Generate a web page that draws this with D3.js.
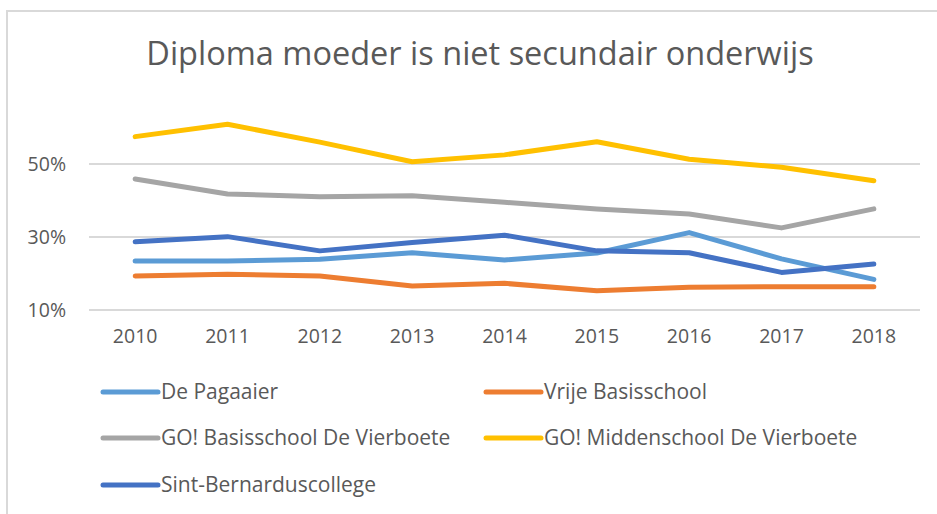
<!DOCTYPE html>
<html>
<head>
<meta charset="utf-8">
<script src="https://cdn.jsdelivr.net/npm/d3@7"></script>
<style>
  body { margin: 0; background: #fff; }
  text { font-family: "Open Sans", sans-serif; fill: #595959; }
</style>
</head>
<body>
<div id="chart"></div>
<script>
// the data
var years = ["2010", "2011", "2012", "2013", "2014", "2015", "2016", "2017", "2018"];
var seriesNames = ["De Pagaaier", "Vrije Basisschool", "GO! Basisschool De Vierboete",
                   "GO! Middenschool De Vierboete", "Sint-Bernarduscollege"];
var pagaaier   = [23.4, 23.4, 23.9, 25.7, 23.7, 25.6, 31.2, 24.0, 18.4];
var vrije      = [19.3, 19.8, 19.3, 16.6, 17.3, 15.3, 16.2, 16.4, 16.4];
var goBasis    = [45.9, 41.8, 41.0, 41.3, 39.5, 37.7, 36.3, 32.5, 37.7];
var goMidden   = [57.5, 60.9, 56.0, 50.6, 52.5, 56.1, 51.3, 49.1, 45.4];
var bernardus  = [28.7, 30.1, 26.2, 28.5, 30.5, 26.2, 25.7, 20.3, 22.6];
var yTicks = [10, 30, 50];
var colors = ["#5B9BD5", "#ED7D31", "#A5A5A5", "#FFC000", "#4472C4"];

var allSeries = [pagaaier, vrije, goBasis, goMidden, bernardus];

var width = 937, height = 514;

var svg = d3.select("#chart")
  .append("svg")
    .attr("width", width)
    .attr("height", height);

// chart border
svg.append("rect")
    .attr("x", 7).attr("y", 11)
    .attr("width", 960).attr("height", 540)
    .attr("fill", "none")
    .attr("stroke", "#d9d9d9")
    .attr("stroke-width", 2);

// title
svg.append("text")
    .attr("x", 480).attr("y", 65)
    .attr("text-anchor", "middle")
    .style("font-size", "32.5px")
    .text("Diploma moeder is niet secundair onderwijs");

// scales
var x = d3.scaleBand()
    .domain(years)
    .range([89, 920]);

var y = d3.scaleLinear()
    .domain([10, 70])
    .range([310, 91]);

// gridlines
svg.append("g")
  .selectAll("line")
  .data(yTicks)
  .enter()
  .append("line")
    .attr("x1", 89).attr("x2", 920)
    .attr("y1", d => y(d)).attr("y2", d => y(d))
    .attr("stroke", "#d9d9d9")
    .attr("stroke-width", 2);

// y axis labels
var yAxis = svg.append("g")
    .attr("transform", "translate(89,0)")
    .call(d3.axisLeft(y).tickValues(yTicks).tickSize(0).tickPadding(23).tickFormat(d => d + "%"));
yAxis.select(".domain").remove();
yAxis.selectAll("text")
    .style("font-size", "19.5px")
    .style("font-family", "'Open Sans', sans-serif")
    .attr("fill", "#595959");

// x axis labels
var xAxis = svg.append("g")
    .attr("transform", "translate(0,310)")
    .call(d3.axisBottom(x).tickSize(0).tickPadding(19));
xAxis.select(".domain").remove();
xAxis.selectAll("text")
    .style("font-size", "19.5px")
    .style("font-family", "'Open Sans', sans-serif")
    .attr("fill", "#595959");

// lines
var line = d3.line()
    .x((d, i) => x(years[i]) + x.bandwidth() / 2)
    .y(d => y(d));

svg.append("g")
  .selectAll("path")
  .data(allSeries)
  .enter()
  .append("path")
    .attr("d", d => line(d))
    .attr("fill", "none")
    .attr("stroke", (d, i) => colors[i])
    .attr("stroke-width", 5)
    .attr("stroke-linecap", "round")
    .attr("stroke-linejoin", "round");

// legend
var legendPos = [[103, 392], [486, 392], [103, 438], [486, 438], [103, 485]];
var legend = svg.append("g")
  .selectAll("g")
  .data(seriesNames)
  .enter()
  .append("g")
    .attr("transform", (d, i) => "translate(" + legendPos[i][0] + "," + legendPos[i][1] + ")");

legend.append("line")
    .attr("x1", 0).attr("x2", 55)
    .attr("stroke", (d, i) => colors[i])
    .attr("stroke-width", 5)
    .attr("stroke-linecap", "round");

legend.append("text")
    .attr("x", 58)
    .attr("dy", "0.35em")
    .style("font-size", "21px")
    .text(d => d);
</script>
</body>
</html>
